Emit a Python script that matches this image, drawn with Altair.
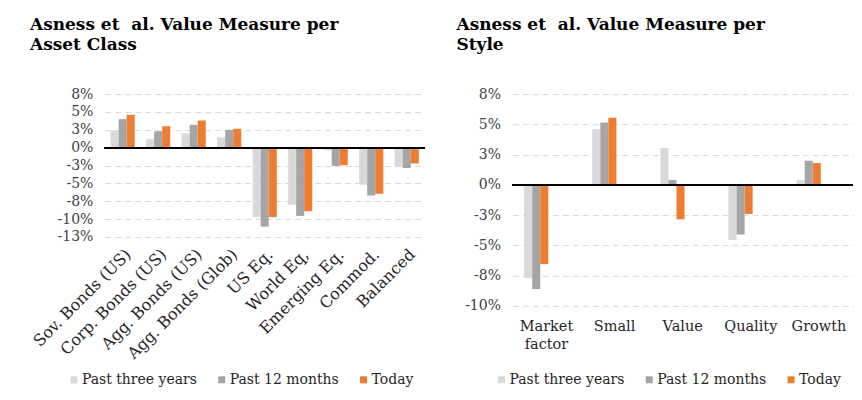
import altair as alt
import pandas as pd

series = ["Past three years", "Past 12 months", "Today"]
colors = ["#D9D9D9", "#A5A5A5", "#ED7D31"]

asset_classes = ["Sov. Bonds (US)", "Corp. Bonds (US)", "Agg. Bonds (US)", "Agg. Bonds (Glob)",
                 "US Eq.", "World Eq,", "Emerging Eq.", "Commod.", "Balanced"]
asset_past3y = [2.4, 1.2, 2.0, 1.45, -9.7, -8.0, -0.4, -5.2, -2.7]
asset_past12m = [4.0, 2.3, 3.2, 2.5, -11.05, -9.55, -2.55, -6.7, -2.85]
asset_today = [4.6, 3.0, 3.8, 2.65, -9.7, -8.9, -2.45, -6.45, -2.2]
asset_ticks = [7.5, 5, 2.5, 0, -2.5, -5, -7.5, -10, -12.5]

styles = ["Market factor", "Small", "Value", "Quality", "Growth"]
style_past3y = [-7.7, 4.6, 3.05, -4.55, 0.4]
style_past12m = [-8.6, 5.15, 0.4, -4.1, 2.0]
style_today = [-6.55, 5.55, -2.85, -2.4, 1.8]
style_ticks = [7.5, 5, 2.5, 0, -2.5, -5, -7.5, -10]

FONT = "DejaVu Serif"
NB = "\u00a0"


def long_df(cats, a, b, c):
    rows = []
    for i, cat in enumerate(cats):
        for s, v in zip(series, (a[i], b[i], c[i])):
            rows.append({"cat": cat, "series": s, "value": v})
    return pd.DataFrame(rows)


label_expr = "(datum.value < 0 ? '-' : '') + round(abs(datum.value)) + '%'"


def panel(df, cats, ticks, domain, width, height, title_lines, title_dx,
          pad_inner, x_axis, legend_x, legend_y):
    y_axis = alt.Axis(values=ticks, tickCount=len(ticks), labelExpr=label_expr,
                      domain=False, ticks=False,
                      grid=True, gridDash=[6, 4], gridColor="#D9D9D9", gridWidth=1,
                      labelFont=FONT, labelFontSize=14, labelColor="#404040",
                      labelPadding=12, labelOverlap=False)
    y_scale = alt.Scale(domain=domain, nice=False, zero=False)
    base = alt.Chart(df)
    bars = base.mark_bar().encode(
        x=alt.X("cat:N", sort=cats, title=None,
                scale=alt.Scale(paddingInner=pad_inner, paddingOuter=pad_inner / 2),
                axis=x_axis),
        xOffset=alt.XOffset("series:N", sort=series),
        y=alt.Y("value:Q", title=None, scale=y_scale, axis=y_axis),
        color=alt.Color("series:N", sort=series,
                        scale=alt.Scale(domain=series, range=colors),
                        legend=alt.Legend(title=None, orient="none", direction="horizontal",
                                          legendX=legend_x, legendY=legend_y,
                                          symbolType="square", symbolSize=49,
                                          symbolStrokeWidth=0, labelFont=FONT,
                                          labelFontSize=14, labelColor="#262626",
                                          columnPadding=17, labelOffset=1)),
    )
    zero = base.mark_rule(color="black", strokeWidth=1.5).encode(
        y=alt.YDatum(0, title=None, scale=y_scale, axis=y_axis))
    return alt.layer(bars, zero).properties(
        width=width, height=height,
        title=alt.TitleParams(title_lines, anchor="start", frame="group", dx=title_dx,
                              font=FONT, fontSize=17, fontWeight="bold", color="black",
                              lineHeight=20, offset=33),
    )


left = panel(
    long_df(asset_classes, asset_past3y, asset_past12m, asset_today),
    asset_classes, asset_ticks, [-12.5, 7.5], 320, 143,
    ["Asness et" + NB + NB + "al. Value Measure per", "Asset Class"], -75, 0.32,
    alt.Axis(labelAngle=-45, domain=False, ticks=False, labelFont=FONT, labelFontSize=16,
             labelColor="#262626", labelPadding=9, labelOffset=0,
             labelOverlap=False),
    -38, 279,
)

right = panel(
    long_df(styles, style_past3y, style_past12m, style_today),
    styles, style_ticks, [-10, 7.5], 341, 212,
    ["Asness et" + NB + NB + "al. Value Measure per", "Style"], -56, 0.345,
    alt.Axis(labelAngle=0, domain=False, ticks=False, labelFont=FONT, labelFontSize=14.5,
             labelColor="#262626", labelPadding=14, labelLineHeight=18,
             labelOverlap=False,
             labelExpr="datum.label == 'Market factor' ? ['Market', 'factor'] : datum.label"),
    -18, 279,
)

chart = alt.hconcat(left, right, spacing=31).resolve_scale(
    color="independent"
).resolve_legend(color="independent").properties(
    padding={"left": 22, "top": 8, "right": 0, "bottom": 0}
).configure(font=FONT).configure_axis(labelOverlap=False).configure_legend(
    labelFont=FONT
).configure_view(stroke=None)

chart.save("out.html", embed_options={"renderer": "svg", "actions": False})
